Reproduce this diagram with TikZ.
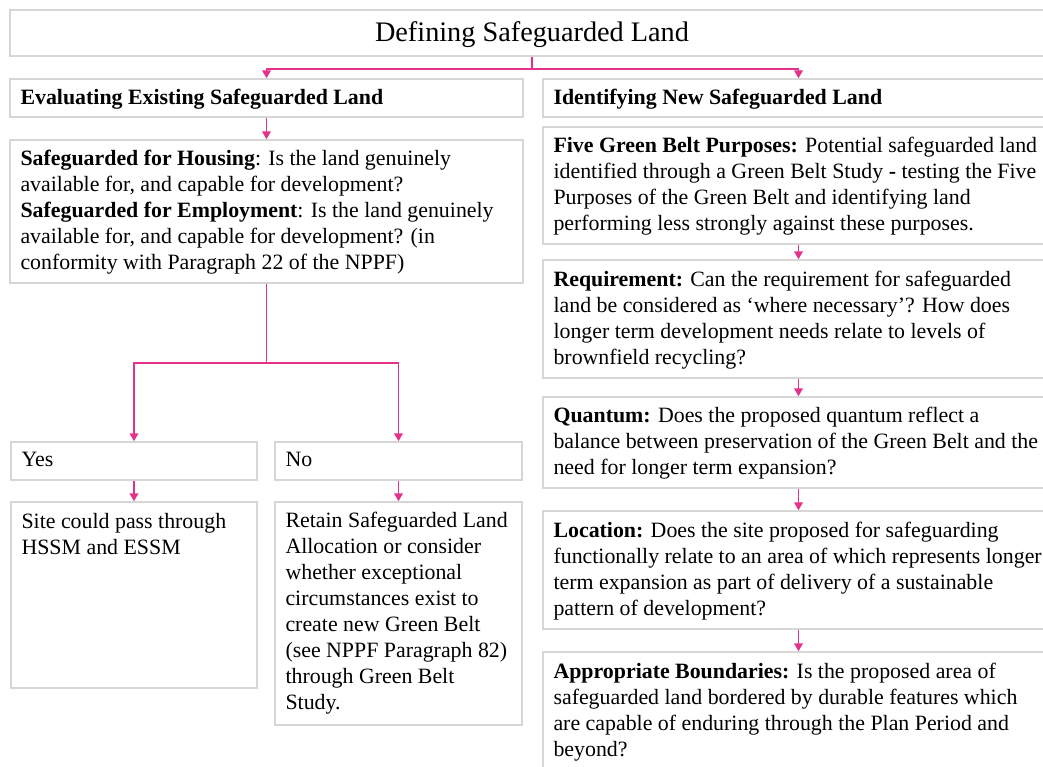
\documentclass[tikz,border=0pt]{standalone}
\usepackage{fontspec}
\setmainfont{Liberation Serif}
\usetikzlibrary{arrows.meta,fit}
\definecolor{boxgrey}{RGB}{214,214,214}
\definecolor{linkpink}{RGB}{228,50,138}
\tikzset{%
    box/.style={draw=boxgrey,line width=1.1pt,inner sep=0pt},
    txt/.style={anchor=north west,align=left,inner sep=0pt,font=\fontsize{16.4}{19.5}\selectfont}
}

\begin{document}
\begin{tikzpicture}[
        x=0.75pt, y=-0.75pt,
        lnk/.style={draw=linkpink, line width=1.35pt, -{Triangle[width=6.5pt,length=6pt]}}
    ]
    \fill[white] (0,0) rectangle (1043,767);
    \useasboundingbox (0,0) rectangle (1043,767);

    \node[box,fit={(10,10) (1054,56)}] (title) {};
    \node[box,fit={(10,79) (523,117)}] (ev) {};
    \node[box,fit={(543,79) (1054,117)}] (id) {};
    \node[box,fit={(10,140) (523,283)}] (sf) {};
    \node[box,fit={(11,442) (257,480)}] (yes) {};
    \node[box,fit={(275,442) (522,480)}] (no) {};
    \node[box,fit={(11,502) (257,688)}] (site) {};
    \node[box,fit={(275,502) (522,725)}] (keep) {};
    \node[box,fit={(543,127) (1054,244)}] (five) {};
    \node[box,fit={(543,260) (1054,378)}] (req) {};
    \node[box,fit={(543,397) (1054,488)}] (quant) {};
    \node[box,fit={(543,511) (1054,629)}] (loc) {};
    \node[box,fit={(543,652) (1054,790)}] (bound) {};

    \node[inner sep=0pt,font=\fontsize{21.2}{25}\selectfont] (titlet) at ([yshift=-1.2pt]title.center) {Defining Safeguarded Land};
    \node[txt] (evt) at ([shift={(11,11)}]ev.north west) {\textbf{Evaluating Existing Safeguarded Land}};
    \node[txt] (idt) at ([shift={(11,11)}]id.north west) {\textbf{Identifying New Safeguarded Land}};
    \node[txt] (sft) at ([shift={(11,11)}]sf.north west) {\textbf{Safeguarded for Housing}: Is the land genuinely\\
        available for, and capable for development?\\
        \textbf{Safeguarded for Employment}: Is the land genuinely\\
        available for, and capable for development? (in\\
        conformity with Paragraph 22 of the NPPF)};
    \node[txt] (yest) at ([shift={(11,11)}]yes.north west) {Yes};
    \node[txt] (not) at ([shift={(11,11)}]no.north west) {No};
    \node[txt] (sitet) at ([shift={(11,12)}]site.north west) {Site could pass through\\HSSM and ESSM};
    \node[txt] (keept) at ([shift={(11,11)}]keep.north west) {Retain Safeguarded Land\\
        Allocation or consider\\
        whether exceptional\\
        circumstances exist to\\
        create new Green Belt\\
        (see NPPF Paragraph 82)\\
        through Green Belt\\
        Study.};
    \node[txt] (fivet) at ([shift={(11,11)}]five.north west) {\textbf{Five Green Belt Purposes:} Potential safeguarded land\\
        identified through a Green Belt Study \textbf{-} testing the Five\\
        Purposes of the Green Belt and identifying land\\
        performing less strongly against these purposes.};
    \node[txt] (reqt) at ([shift={(11,12)}]req.north west) {\textbf{Requirement:} Can the requirement for safeguarded\\
        land be considered as ‘where necessary’? How does\\
        longer term development needs relate to levels of\\
        brownfield recycling?};
    \node[txt] (quantt) at ([shift={(11,11)}]quant.north west) {\textbf{Quantum:} Does the proposed quantum reflect a\\
        balance between preservation of the Green Belt and the\\
        need for longer term expansion?};
    \node[txt] (loct) at ([shift={(11,12)}]loc.north west) {\textbf{Location:} Does the site proposed for safeguarding\\
        functionally relate to an area of which represents longer\\
        term expansion as part of delivery of a sustainable\\
        pattern of development?};
    \node[txt] (boundt) at ([shift={(11,12)}]bound.north west) {\textbf{Appropriate Boundaries:} Is the proposed area of\\
        safeguarded land bordered by durable features which\\
        are capable of enduring through the Plan Period and\\
        beyond?};

    \draw[lnk] (title.south) -- ++(0,12) -| (ev.north);
    \draw[lnk] (title.south) -- ++(0,12) -| (id.north);
    \draw[lnk] (ev.south) -- (sf.north);
    \draw[lnk] (sf.south) -- ++(0,79) -| (yes.north);
    \draw[lnk] (sf.south) -- ++(0,79) -| (no.north);
    \draw[lnk] (yes.south) -- (site.north);
    \draw[lnk] (no.south) -- (keep.north);
    \draw[lnk] (five.south) -- (req.north);
    \draw[lnk] (req.south) -- (quant.north);
    \draw[lnk] (quant.south) -- (loc.north);
    \draw[lnk] (loc.south) -- (bound.north);
\end{tikzpicture}
\end{document}
